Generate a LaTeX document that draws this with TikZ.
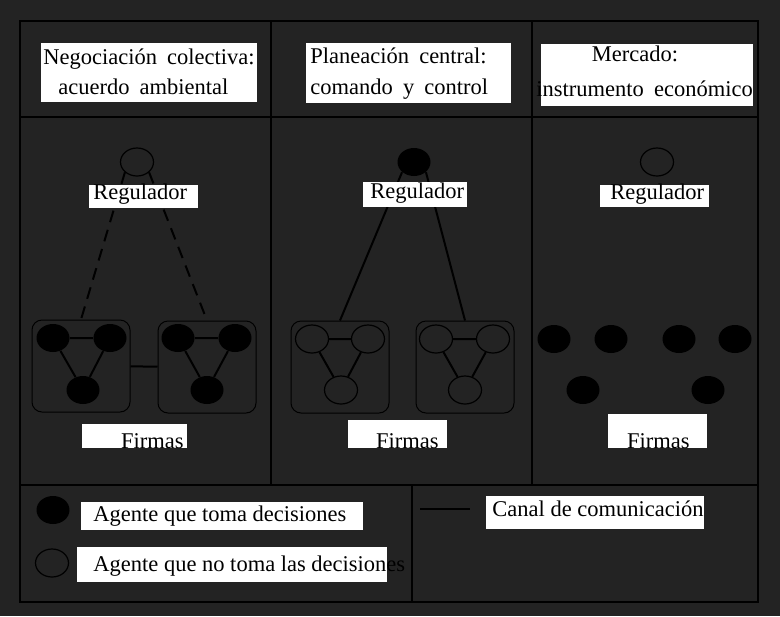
\documentclass[tikz,border=0pt]{standalone}
\usepackage{fontspec}
\setmainfont{Liberation Serif}
\newfontfamily\encab{Liberation Serif}[WordSpace=1.8]
\usetikzlibrary{shapes.geometric}
\definecolor{fondo}{RGB}{35,35,35}

\begin{document}
\begin{tikzpicture}[x=0.5pt,y=-0.5pt,
	txt/.style={inner sep=0pt,anchor=base west,text=black,font=\fontsize{11.25pt}{14pt}\selectfont},
	hdr/.style={txt,font=\encab\fontsize{11.25pt}{14pt}\selectfont},
	dec/.style={ellipse,fill=black,minimum width=16.5pt,minimum height=14pt,inner sep=0pt},
	nodec/.style={ellipse,draw=black,line width=0.6pt,minimum width=16.5pt,minimum height=14pt,inner sep=0pt},
	caja/.style={draw=black,line width=0.5pt,rounded corners=5pt,minimum width=49pt,minimum height=46pt,inner sep=0pt},
	canal/.style={draw=black,line width=1pt},
	marco/.style={draw=black,line width=1pt}]

	\fill[fondo] (0,0) rectangle (780,616);
	% marco y divisiones
	\draw[marco] (20,21) rectangle (758,602);
	\draw[marco] (20,117) -- (758,117);
	\draw[marco] (20,485) -- (758,485);
	\draw[marco] (271,21) -- (271,485);
	\draw[marco] (532,21) -- (532,485);
	\draw[marco] (412,485) -- (412,602);

	% encabezados
	\fill[white] (41,43) rectangle (257,102);
	\node[hdr] (h1a) at (43,64) {Negociación colectiva:};
	\node[hdr] (h1b) at (58,94) {acuerdo ambiental};
	\fill[white] (306,43) rectangle (511,103);
	\node[hdr] (h2a) at (310,63) {Planeación central:};
	\node[hdr] (h2b) at (310,94) {comando y control};
	\fill[white] (541,44) rectangle (753,106);
	\node[hdr,anchor=base] (h3a) at (635,61) {Mercado:};
	\node[hdr] (h3b) at (536,96) {instrumento económico};

	% negociacion colectiva
	\node[nodec] (reg1) at (137,162) {};
	\node[caja] (f1) at (81,366) {};
	\node[caja] (f2) at (207,367) {};
	\node[dec] (a1) at (53,338) {};
	\node[dec] (a2) at (110,338) {};
	\node[dec] (a3) at (83,390) {};
	\node[dec] (a4) at (178,338) {};
	\node[dec] (a5) at (235,338) {};
	\node[dec] (a6) at (207,390) {};
	\draw[canal] (a1) -- (a2) (a1) -- (a3) (a2) -- (a3);
	\draw[canal] (a4) -- (a5) (a4) -- (a6) (a5) -- (a6);
	\draw[canal] (f1) -- (f2);
	\draw[canal,dash pattern=on 6pt off 4pt] (reg1.south west) -- (f1.north);
	\draw[canal,dash pattern=on 6pt off 4pt] (reg1.south east) -- (f2.north);
	\fill[white] (89,185) rectangle (198,208);
	\node[txt] (r1) at (93,199) {Regulador};
	\fill[white] (82,424) rectangle (187,448);
	\node[txt,anchor=base east] (fi1) at (184,448) {Firmas};

	% planeacion central
	\node[dec] (reg2) at (414,162) {};
	\node[caja] (f3) at (340,367) {};
	\node[caja] (f4) at (465,367) {};
	\node[nodec] (c1) at (312,339) {};
	\node[nodec] (c2) at (368,339) {};
	\node[nodec] (c3) at (341,390) {};
	\node[nodec] (c4) at (436,339) {};
	\node[nodec] (c5) at (493,339) {};
	\node[nodec] (c6) at (465,390) {};
	\draw[canal] (c1) -- (c2) (c1) -- (c3) (c2) -- (c3);
	\draw[canal] (c4) -- (c5) (c4) -- (c6) (c5) -- (c6);
	\draw[canal] (reg2.south west) -- (f3.north);
	\draw[canal] (reg2.south east) -- (f4.north);
	\fill[white] (363,182) rectangle (467,207);
	\node[txt] (r2) at (370,198) {Regulador};
	\fill[white] (348,420) rectangle (447,448);
	\node[txt,anchor=base east] (fi2) at (439,448) {Firmas};

	% mercado
	\node[nodec] (reg3) at (657,162) {};
	\node[dec] (d1) at (554,339) {};
	\node[dec] (d2) at (611,339) {};
	\node[dec] (d3) at (679,339) {};
	\node[dec] (d4) at (735,339) {};
	\node[dec] (d5) at (583,390) {};
	\node[dec] (d6) at (708,390) {};
	\fill[white] (600,185) rectangle (709,207);
	\node[txt] (r3) at (610,199) {Regulador};
	\fill[white] (608,414) rectangle (707,448);
	\node[txt,anchor=base east] (fi3) at (690,448) {Firmas};

	% leyenda
	\node[dec] (l1) at (53,510) {};
	\fill[white] (81,502) rectangle (363,530);
	\node[txt] (lt1) at (93,521) {Agente que toma decisiones};
	\node[nodec] (l2) at (52,563) {};
	\fill[white] (77,547) rectangle (387,582);
	\node[txt] (lt2) at (93,571) {Agente que no toma las decisiones};
	\coordinate (ca) at (420,509);
	\coordinate (cb) at (470,509);
	\draw[canal] (ca) -- (cb);
	\fill[white] (486,496) rectangle (704,529);
	\node[txt] (lt3) at (492,516) {Canal de comunicación};
\end{tikzpicture}
\end{document}
